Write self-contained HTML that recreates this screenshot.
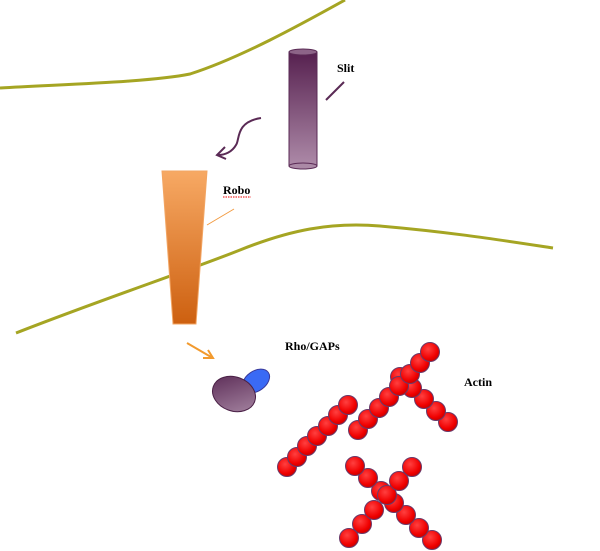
<!DOCTYPE html>
<html><head><meta charset="utf-8"><style>
html,body{margin:0;padding:0;background:#fff;}
svg{display:block;}
text{font-family:"Liberation Serif",serif;font-weight:bold;font-size:12px;fill:#000;}
</style></head><body>
<svg width="600" height="551" viewBox="0 0 600 551" xmlns="http://www.w3.org/2000/svg">
<defs>
<linearGradient id="slit" x1="0" y1="0" x2="0" y2="1"><stop offset="0" stop-color="#56204f"/><stop offset="1" stop-color="#ad8aa8"/></linearGradient>
<linearGradient id="robo" x1="0" y1="0" x2="0" y2="1"><stop offset="0" stop-color="#f7a964"/><stop offset="1" stop-color="#cd6010"/></linearGradient>
<radialGradient id="bead" cx="0.4" cy="0.35" r="0.7"><stop offset="0" stop-color="#ff4040"/><stop offset="0.7" stop-color="#f00000"/><stop offset="1" stop-color="#c00000"/></radialGradient>
<linearGradient id="rho" x1="0" y1="0" x2="1" y2="1"><stop offset="0" stop-color="#5a2a55"/><stop offset="1" stop-color="#a787a3"/></linearGradient>
<g id="b"><circle r="9.5" fill="url(#bead)" stroke="#6a3a6a" stroke-width="1"/></g>
</defs>
<path d="M0,88 C70,84 150,82 190,74 C240,58 300,25 345,0" fill="none" stroke="#a5a523" stroke-width="3"/>
<path d="M16,333 C100,300 190,270 240,250 C290,230 330,222 380,226 C450,232 500,240 553,248" fill="none" stroke="#a5a523" stroke-width="3"/>
<rect x="289" y="52" width="28" height="114" fill="url(#slit)" stroke="#5a2a55" stroke-width="1"/>
<ellipse cx="303" cy="166" rx="14" ry="3" fill="#ab89a6" stroke="#5a2a55" stroke-width="1"/>
<ellipse cx="303" cy="52" rx="14" ry="3" fill="#8d6488" stroke="#5a2a55" stroke-width="1"/>
<text x="337" y="72">Slit</text>
<line x1="326" y1="100" x2="344" y2="82" stroke="#5a2a55" stroke-width="2"/>
<path d="M261,118 C235,122 240,140 236,145 C232,152 225,155 218,155" fill="none" stroke="#5a2a55" stroke-width="2"/>
<path d="M225,147 L217,155 L226,159" fill="none" stroke="#5a2a55" stroke-width="2"/>
<polygon points="162,171 207,171 196,324 173,324" fill="url(#robo)" stroke="#f2a563" stroke-width="1"/>
<text x="223" y="194">Robo</text>
<line x1="223" y1="197" x2="251" y2="197" stroke="#e00" stroke-width="1" stroke-dasharray="1.5,1"/>
<line x1="207" y1="225" x2="234" y2="209" stroke="#f29a40" stroke-width="1"/>
<line x1="187" y1="343" x2="211" y2="357" stroke="#f29a2e" stroke-width="2"/>
<path d="M203,358 L213,358 L208,350" fill="none" stroke="#f29a2e" stroke-width="2"/>
<ellipse cx="256" cy="381" rx="15" ry="10" transform="rotate(-35 256 381)" fill="#3a6af5" stroke="#3a3a9a" stroke-width="1"/>
<ellipse cx="234" cy="394" rx="22" ry="17" transform="rotate(20 234 394)" fill="url(#rho)" stroke="#4a2046" stroke-width="1"/>
<text x="285" y="350">Rho/GAPs</text>
<text x="464" y="386">Actin</text>
<use href="#b" x="287" y="467"/><use href="#b" x="297" y="457"/><use href="#b" x="307" y="446"/><use href="#b" x="317" y="436"/><use href="#b" x="328" y="426"/><use href="#b" x="338" y="415"/><use href="#b" x="348" y="405"/>
<use href="#b" x="358" y="430"/><use href="#b" x="368" y="419"/><use href="#b" x="379" y="408"/><use href="#b" x="389" y="397"/>
<use href="#b" x="448" y="422"/><use href="#b" x="436" y="411"/><use href="#b" x="424" y="399"/><use href="#b" x="412" y="388"/><use href="#b" x="400" y="377"/>
<use href="#b" x="399" y="386"/><use href="#b" x="410" y="374"/><use href="#b" x="420" y="363"/><use href="#b" x="430" y="352"/>
<use href="#b" x="432" y="540"/><use href="#b" x="419" y="528"/><use href="#b" x="406" y="515"/>
<use href="#b" x="349" y="538"/><use href="#b" x="362" y="524"/><use href="#b" x="374" y="510"/>
<use href="#b" x="394" y="503"/><use href="#b" x="381" y="491"/><use href="#b" x="368" y="478"/><use href="#b" x="355" y="466"/>
<use href="#b" x="387" y="495"/><use href="#b" x="399" y="481"/><use href="#b" x="412" y="467"/>
</svg>
</body></html>
